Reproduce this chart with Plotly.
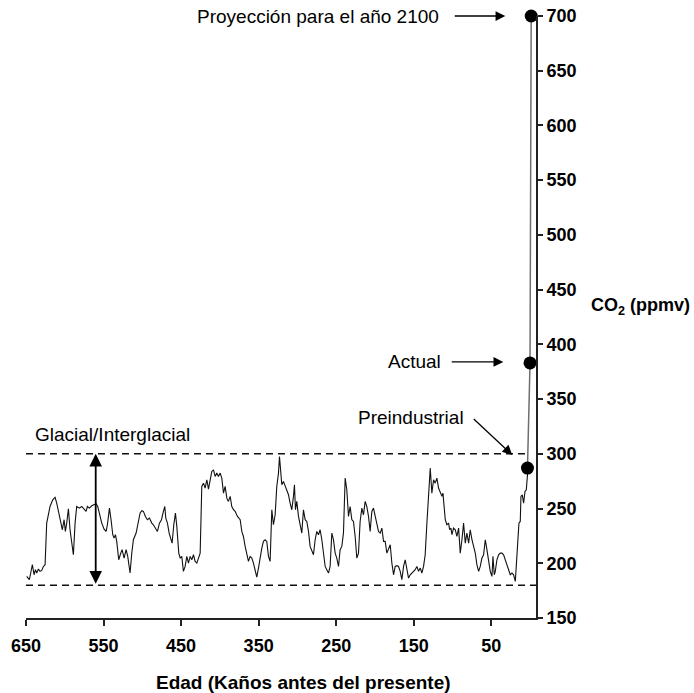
import plotly.graph_objects as go

# Ice-core CO2 record (age in thousands of years before present, CO2 in ppmv)
age_kyr = [649.1, 645.7, 643.9, 641.8, 639.6, 637.9, 636.2, 634.0, 631.9, 629.7, 627.6, 625.4,
           623.3, 619.0, 615.5, 612.5, 610.4, 606.1, 603.1, 600.9, 599.2, 597.5, 595.3, 593.2,
           591.0, 588.9, 586.7, 584.6, 581.1, 578.1, 575.1, 572.5, 570.8, 568.2, 565.2, 562.2,
           559.6, 557.5, 555.3, 552.3, 549.3, 546.7, 545.0, 542.4, 540.3, 538.1, 536.4, 534.7,
           533.0, 530.4, 527.8, 526.1, 523.5, 520.9, 518.8, 515.8, 513.6, 511.5, 508.0, 505.0,
           502.9, 500.7, 498.6, 496.0, 493.4, 490.8, 487.8, 485.7, 483.1, 480.5, 477.9, 475.3,
           472.8, 471.0, 469.7, 467.6, 465.4, 463.3, 461.6, 459.4, 457.3, 455.5, 453.0, 451.2,
           449.1, 447.0, 444.8, 442.6, 440.5, 438.3, 436.2, 434.0, 431.9, 429.7, 427.2, 425.4,
           423.3, 421.1, 419.0, 416.8, 414.7, 412.5, 410.4, 408.2, 406.1, 403.9, 401.8, 399.6,
           397.5, 395.3, 393.2, 391.0, 389.0, 386.7, 384.6, 382.4, 380.3, 377.3, 373.8,
           371.7, 369.6, 367.4, 365.3, 363.1, 361.0, 358.8, 356.7, 354.5, 352.4, 350.2, 348.1,
           345.9, 343.8, 341.6, 339.5, 337.3, 335.2, 333.0, 330.9, 328.7, 326.6, 324.4, 323.1,
           321.4, 320.1, 318.0, 315.8, 313.7, 311.5, 309.4, 307.2, 305.1, 303.8, 302.5, 300.8,
           298.6, 296.5, 294.3, 292.2, 290.0, 287.9, 285.7, 283.6, 281.4, 279.3, 277.1, 275.0,
           272.8, 270.7, 268.5, 266.4, 264.2, 262.1, 259.9, 257.8, 255.6, 253.5, 251.3, 249.2,
           247.0, 244.9, 242.7, 240.6, 238.4, 236.3, 234.1, 232.0, 229.8, 227.7, 225.5, 223.4,
           221.2, 219.1, 216.9, 214.8, 212.6, 210.5, 208.3, 206.2, 204.0, 201.9, 199.7, 197.5,
           195.4, 193.2, 191.1, 188.9, 186.8, 184.6, 182.5, 180.3, 178.2, 176.0, 173.9, 171.7,
           169.6, 167.4, 165.3, 163.1, 161.0, 158.8, 156.7, 154.5, 152.4, 150.2, 148.1, 145.9,
           143.8, 141.6, 139.5, 137.3, 135.2, 133.0, 130.9, 128.7, 126.6, 124.4, 122.3, 120.1,
           118.0, 115.8, 113.6, 112.3, 110.6, 109.3, 107.2, 105.0, 103.7, 102.0, 100.7, 98.6,
           96.4, 94.3, 92.1, 90.0, 87.8, 85.7, 83.5, 81.4, 79.2, 77.1, 74.9, 72.8, 70.6, 68.5,
           66.3, 64.2, 62.0, 59.9, 57.7, 55.6, 53.4, 51.3, 49.1, 47.8, 46.1, 44.8, 42.7, 40.5,
           38.4, 36.2, 34.1, 31.9, 29.8, 27.6, 25.5, 23.3, 21.2, 19.0, 17.7, 16.0, 14.3, 12.6,
           11.7, 10.0, 8.3, 6.5, 4.8, 3.1]
co2_ppmv = [188.0, 185.0, 191.1, 198.7, 189.5, 194.1, 191.1, 194.7, 192.6, 193.5, 197.1, 198.7,
            236.7, 251.9, 258.0, 260.2, 255.0, 239.8, 230.6, 239.8, 229.1, 236.7, 249.8, 230.6,
            218.4, 207.8, 236.7, 251.9, 250.4, 251.9, 249.5, 247.4, 251.9, 250.4, 252.5, 253.5,
            254.4, 251.9, 244.3, 236.7, 231.2, 229.1, 235.2, 250.4, 239.8, 226.1, 223.0, 226.1,
            220.0, 203.2, 209.3, 212.4, 204.8, 212.4, 206.3, 191.1, 209.3, 221.5, 227.6, 239.8,
            245.8, 248.0, 247.4, 242.8, 239.8, 241.3, 236.7, 235.2, 232.1, 229.1, 236.7, 239.8,
            247.4, 251.9, 241.3, 236.7, 227.6, 223.0, 218.4, 235.2, 245.8, 233.7, 209.3, 204.8,
            206.3, 192.6, 197.1, 206.3, 200.2, 206.3, 203.2, 207.8, 201.7, 200.2, 206.3, 209.3,
            270.2, 273.2, 268.7, 276.3, 267.8, 277.8, 283.9, 285.4, 279.3, 282.4, 279.3, 282.4,
            277.8, 264.1, 270.2, 259.5, 256.5, 261.1, 251.9, 248.9, 247.4, 242.8, 239.8,
            229.1, 224.5, 215.4, 209.3, 201.7, 206.3, 204.8, 200.2, 194.1, 187.4, 195.6, 206.3,
            213.9, 220.0, 221.5, 220.0, 206.3, 201.7, 248.9, 235.2, 244.3, 270.2, 282.4, 297.6,
            279.3, 271.7, 274.8, 270.2, 267.2, 262.6, 255.0, 248.9, 261.1, 271.7, 248.9, 256.5,
            242.8, 235.2, 227.6, 248.9, 239.8, 238.2, 229.1, 215.4, 210.8, 207.8, 221.5, 229.1,
            226.1, 230.6, 221.5, 210.8, 197.1, 194.1, 191.1, 197.1, 227.6, 221.5, 209.3, 204.8,
            197.1, 212.4, 215.4, 227.6, 277.8, 267.2, 242.8, 251.9, 239.8, 238.2, 224.5, 204.8,
            209.3, 238.2, 250.4, 244.3, 256.5, 251.9, 242.8, 229.1, 247.4, 250.4, 242.8, 238.2,
            229.1, 227.6, 232.1, 220.0, 220.0, 209.3, 213.9, 216.9, 200.2, 189.5, 197.1, 197.8,
            197.1, 192.6, 185.0, 197.1, 203.2, 192.6, 186.5, 189.5, 191.1, 192.6, 194.1, 197.1,
            192.6, 195.6, 191.1, 197.1, 207.8, 236.7, 264.1, 286.9, 264.1, 276.3, 273.2, 277.8,
            268.7, 265.6, 261.1, 264.1, 252.0, 239.8, 235.2, 236.7, 230.6, 232.1, 226.1, 232.1,
            230.6, 224.5, 232.1, 209.3, 221.5, 236.7, 218.4, 227.6, 218.4, 230.6, 221.5, 215.4,
            209.3, 198.7, 192.6, 197.1, 204.8, 207.8, 221.5, 212.4, 200.2, 192.6, 188.0, 206.3,
            189.5, 192.6, 203.2, 207.8, 209.3, 209.3, 207.8, 203.2, 197.1, 192.6, 189.5, 191.1,
            189.5, 183.4, 197.1, 221.5, 236.7, 238.2, 261.1, 262.6, 255.0, 265.6, 267.2, 282.4]

# Modern / projected points: preindustrial, current, 2100 projection
modern_age = [3.3, 0.0, -1.5]
modern_co2 = [287, 383, 700]

# Glacial / interglacial reference levels
glacial_level = 180
interglacial_level = 300

x_tickvals = [650, 550, 450, 350, 250, 150, 50]
x_ticktext = ["650", "550", "450", "350", "250", "150", "50"]
y_tickvals = [150, 200, 250, 300, 350, 400, 450, 500, 550, 600, 650, 700]

FONT = "Liberation Sans, Arial, Helvetica, sans-serif"

fig = go.Figure()

fig.add_trace(go.Scatter(x=age_kyr, y=co2_ppmv, mode="lines",
                         line=dict(color="#111111", width=1.1), hoverinfo="skip"))
fig.add_trace(go.Scatter(x=[age_kyr[-1]] + modern_age, y=[co2_ppmv[-1]] + modern_co2,
                         mode="lines", line=dict(color="#6e6e6e", width=1.5), hoverinfo="skip",
                         cliponaxis=False))
fig.add_trace(go.Scatter(x=modern_age, y=modern_co2, mode="markers",
                         marker=dict(color="black", size=13), hoverinfo="skip",
                         cliponaxis=False))

# dashed reference lines
fig.add_shape(type="line", xref="x", yref="y", x0=650, x1=4, y0=interglacial_level,
              y1=interglacial_level, line=dict(color="#111", width=1.5, dash="7px,5px"))
fig.add_shape(type="line", xref="x", yref="y", x0=650, x1=-7.7, y0=glacial_level,
              y1=glacial_level, line=dict(color="#111", width=1.5, dash="7px,5px"))

ann_font = dict(family=FONT, size=19, color="black")
annotations = [
    dict(x=273.9, y=700, text="Proyección para el año 2100", showarrow=False, font=ann_font),
    dict(x=149.3, y=384, text="Actual", showarrow=False, font=ann_font),
    dict(x=153.9, y=333, text="Preindustrial", showarrow=False, font=ann_font),
    dict(x=538.4, y=317.4, text="Glacial/Interglacial", showarrow=False, font=ann_font),
    # arrows
    dict(x=31.9, y=700, ax=99.0, ay=700, axref="x", ayref="y", text="", showarrow=True,
         arrowhead=2, arrowsize=1.5, arrowwidth=1.3, arrowcolor="black"),
    dict(x=34.5, y=384, ax=102.9, ay=384, axref="x", ayref="y", text="", showarrow=True,
         arrowhead=2, arrowsize=1.5, arrowwidth=1.3, arrowcolor="black"),
    dict(x=22.9, y=299, ax=74.5, ay=333, axref="x", ayref="y", text="", showarrow=True,
         arrowhead=2, arrowsize=1.5, arrowwidth=1.3, arrowcolor="black"),
    dict(x=560.1, y=interglacial_level, ax=560.1, ay=glacial_level, axref="x", ayref="y",
         text="", showarrow=True, arrowhead=2, startarrowhead=2, arrowside="end+start",
         arrowsize=1.4, startarrowsize=1.4, arrowwidth=1.8, arrowcolor="black"),
    # axis titles
    dict(xref="paper", yref="paper", x=0.545, y=-0.1074, yanchor="middle",
         text="<b>Edad (Kaños antes del presente)</b>", showarrow=False,
         font=dict(family=FONT, size=19, color="black")),
    dict(xref="paper", yref="y", x=1.103, y=434.6, xanchor="left",
         text="<b>CO<sub>2</sub> (ppmv)</b>", showarrow=False,
         font=dict(family=FONT, size=18, color="black")),
]

fig.update_layout(
    width=694, height=693,
    margin=dict(l=26, r=158.3, t=16, b=74.7, autoexpand=False),
    plot_bgcolor="white", paper_bgcolor="white",
    showlegend=False,
    annotations=annotations,
    xaxis=dict(range=[650, -7.7], tickvals=x_tickvals, ticktext=x_ticktext, automargin=False,
               showgrid=False, zeroline=False, showline=True, linecolor="#222", linewidth=2,
               ticks="outside", ticklen=6, tickwidth=1.5, tickcolor="#222",
               ticklabelstandoff=4,
               tickfont=dict(family=FONT, size=18, color="black", weight="bold")),
    yaxis=dict(range=[150, 700], tickvals=y_tickvals, side="right", automargin=False,
               showgrid=False, zeroline=False, showline=True, linecolor="#222", linewidth=2,
               ticks="outside", ticklen=5, tickwidth=1.5, tickcolor="#222",
               tickfont=dict(family=FONT, size=18, color="black", weight="bold")),
)

fig.write_html("out.html")
